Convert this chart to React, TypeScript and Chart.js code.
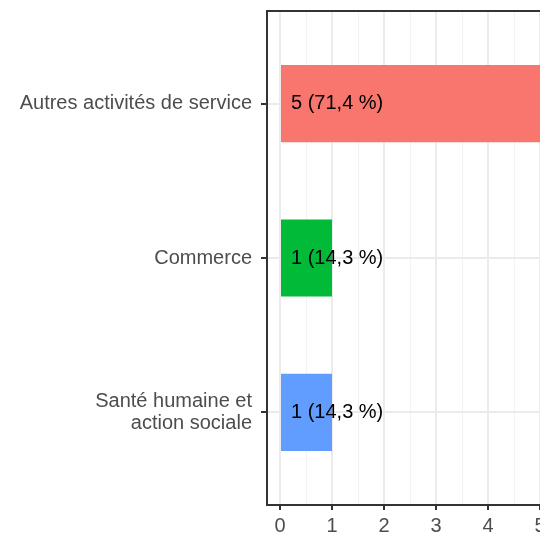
import React, { useEffect, useRef } from "react";
import { Chart, registerables } from "chart.js";

Chart.register(...registerables);

const categories: (string | string[])[] = [
  "Autres activités de service",
  "Commerce",
  ["Santé humaine et", "action sociale"],
];
const counts = [5, 1, 1];
const barColors = ["#F8766D", "#00BA38", "#619CFF"];
const xTickValues = [0, 0.5, 1, 1.5, 2, 2.5, 3, 3.5, 4, 4.5, 5];

const FONT = "'Liberation Sans', Arial, Helvetica, sans-serif";

export default function App() {
  const ref = useRef<HTMLCanvasElement | null>(null);

  useEffect(() => {
    if (!ref.current) return;
    const total = counts.reduce((a, b) => a + b, 0);
    const labelTexts = counts.map(
      (c) => `${c} (${((c / total) * 100).toFixed(1).replace(".", ",")} %)`
    );

    const borderPlugin = {
      id: "panelBorder",
      afterDatasetsDraw(chart: any) {
        const { ctx, chartArea, scales } = chart;
        const meta = chart.getDatasetMeta(0);
        ctx.save();
        ctx.font = `20px ${FONT}`;
        ctx.fillStyle = "#000000";
        ctx.textAlign = "left";
        ctx.textBaseline = "middle";
        const x0 = scales.x.getPixelForValue(0);
        meta.data.forEach((bar: any, i: number) => {
          ctx.fillText(labelTexts[i], x0 + 11, bar.y);
        });
        ctx.strokeStyle = "#333333";
        ctx.lineWidth = 2;
        ctx.strokeRect(
          chartArea.left,
          chartArea.top,
          chartArea.right - chartArea.left,
          chartArea.bottom - chartArea.top
        );
        ctx.restore();
      },
    };

    const chart = new Chart(ref.current, {
      type: "bar",
      data: {
        datasets: [
          {
            data: counts.map((c, i) => ({ x: c, y: i + 1 })),
            backgroundColor: barColors,
            borderWidth: 0,
            barPercentage: 0.5,
            categoryPercentage: 1,
          },
        ],
      },
      options: {
        indexAxis: "y",
        animation: false,
        responsive: false,
        events: [],
        layout: { padding: { top: 11, right: 7, left: 0, bottom: 0 } },
        plugins: { legend: { display: false }, tooltip: { enabled: false } },
        scales: {
          x: {
            type: "linear",
            min: -0.25,
            max: 5.25,
            offset: false,
            afterBuildTicks: (scale: any) => {
              scale.ticks = xTickValues.map((v) => ({ value: v }));
            },
            afterFit: (scale: any) => {
              scale.height = 30;
              scale.paddingLeft = 0;
              scale.paddingRight = 0;
            },
            border: { display: false },
            grid: {
              offset: false,
              color: (ctx: any) =>
                ctx.tick && ctx.tick.value % 1 === 0 ? "#EBEBEB" : "#F2F2F2",
              lineWidth: (ctx: any) =>
                ctx.tick && ctx.tick.value % 1 === 0 ? 2 : 1,
              tickColor: (ctx: any) =>
                ctx.tick && ctx.tick.value % 1 === 0 ? "#333333" : "rgba(0,0,0,0)",
              tickWidth: 2,
              tickLength: 5,
            },
            ticks: {
              color: "#4D4D4D",
              font: { family: FONT, size: 20 },
              padding: 4,
              maxRotation: 0,
              autoSkip: false,
              callback: (v: any) => (Number(v) % 1 === 0 ? String(v) : ""),
            },
          },
          y: {
            type: "linear",
            min: 0.4,
            max: 3.6,
            reverse: true,
            offset: false,
            afterBuildTicks: (scale: any) => {
              scale.ticks = categories.map((_, i) => ({ value: i + 1 }));
            },
            afterFit: (scale: any) => {
              scale.width = 267;
              scale.paddingTop = 0;
              scale.paddingBottom = 0;
            },
            border: { display: false },
            grid: {
              offset: false,
              color: "#EBEBEB",
              lineWidth: 2,
              tickColor: "#333333",
              tickWidth: 2,
              tickLength: 6,
            },
            ticks: {
              color: "#4D4D4D",
              font: { family: FONT, size: 20, lineHeight: 1.1 },
              padding: 9,
              autoSkip: false,
              callback: (_v: any, i: number) => categories[i],
            },
          },
        },
      },
      plugins: [borderPlugin],
    } as any);

    return () => chart.destroy();
  }, []);

  return (
    <div
      style={{
        position: "fixed",
        left: 0,
        top: 0,
        width: 540,
        height: 535,
        overflow: "hidden",
        background: "#ffffff",
      }}
    >
      <canvas ref={ref} width={560} height={535} style={{ width: 560, height: 535, display: "block" }} />
    </div>
  );
}
